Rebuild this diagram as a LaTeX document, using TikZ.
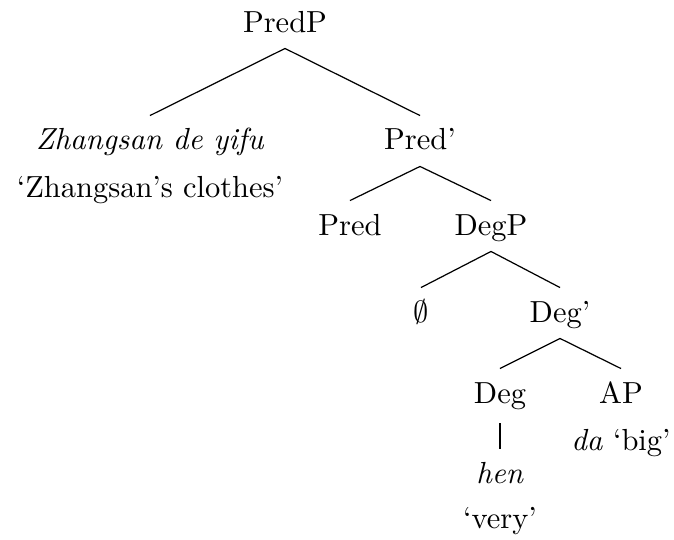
\documentclass[tikz,border=0pt]{standalone}
\begin{document}
\begin{tikzpicture}[x=0.328pt,y=-0.328pt,
  lab/.style={anchor=base,inner sep=0pt,font=\fontsize{10pt}{12pt}\selectfont},
  branch/.style={line width=0.4pt,black}]
\useasboundingbox (0,0) rectangle (674,540);
\node[lab] (predp) at (285,32) {PredP};
\node[lab] (zh) at (150,150) {\textit{Zhangsan de yifu}};
\node[lab] (zhg) at (150,197) {`Zhangsan's clothes'};
\node[lab] (predbar) at (420,150) {Pred'};
\node[lab] (pred) at (350,235) {Pred};
\node[lab] (degp) at (491,235) {DegP};
\node[lab] (empty) at (421,322) {$\emptyset$};
\node[lab] (degbar) at (560,322) {Deg'};
\node[lab] (deg) at (500,403) {Deg};
\node[lab] (ap) at (621,403) {AP};
\node[lab] (da) at (621,450) {\textit{da} `big'};
\node[lab] (hen) at (500,483) {\textit{hen}};
\node[lab] (very) at (500,528) {`very'};
\foreach \p/\c in {predp/zh,predp/predbar,predbar/pred,predbar/degp,degp/empty,degp/degbar,degbar/deg,degbar/ap}
  \draw[branch] ([yshift=-5.4pt]\p.base) -- ([yshift=11.3pt]\c.base);
\draw[branch] ([yshift=-6.6pt]deg.base) -- ([yshift=11.2pt]hen.base);
\end{tikzpicture}
\end{document}
